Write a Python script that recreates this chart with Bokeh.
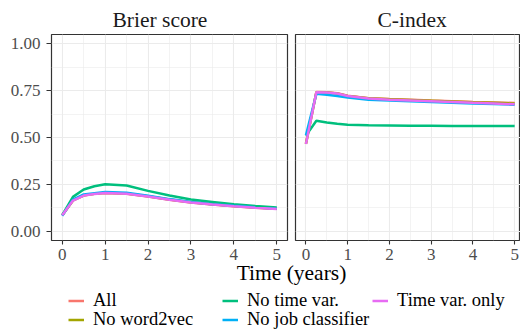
from bokeh.plotting import figure
from bokeh.models import (FixedTicker, Label, Legend, LegendItem, Range1d,
                          NumeralTickFormatter, ColumnDataSource)
from bokeh.layouts import column, row
from bokeh.embed import file_html
from bokeh.resources import INLINE

# ---------------- data ----------------
time = [0, 0.25, 0.5, 0.75, 1, 1.5, 2, 2.5, 3, 3.5, 4, 4.5, 5]

series = ["All", "No word2vec", "No time var.", "No job classifier", "Time var. only"]
colors = ["#F8766D", "#A3A500", "#00BF7D", "#00B0F6", "#E76BF3"]

brier_all          = [0.085, 0.164, 0.190, 0.199, 0.204, 0.200, 0.185, 0.168, 0.153, 0.142, 0.133, 0.125, 0.119]
brier_no_word2vec  = [0.085, 0.164, 0.191, 0.199, 0.205, 0.201, 0.186, 0.169, 0.154, 0.143, 0.134, 0.126, 0.119]
brier_no_time_var  = [0.085, 0.183, 0.222, 0.240, 0.250, 0.244, 0.215, 0.190, 0.169, 0.156, 0.143, 0.134, 0.126]
brier_no_job_cls   = [0.082, 0.168, 0.196, 0.203, 0.209, 0.205, 0.189, 0.171, 0.156, 0.144, 0.135, 0.127, 0.120]
brier_time_var     = [0.085, 0.163, 0.190, 0.198, 0.204, 0.200, 0.185, 0.168, 0.153, 0.142, 0.133, 0.125, 0.118]

cidx_all           = [0.466, 0.743, 0.741, 0.736, 0.723, 0.710, 0.705, 0.701, 0.697, 0.694, 0.690, 0.687, 0.684]
cidx_no_word2vec   = [0.466, 0.742, 0.740, 0.735, 0.722, 0.709, 0.704, 0.700, 0.696, 0.692, 0.688, 0.685, 0.682]
cidx_no_time_var   = [0.510, 0.589, 0.580, 0.573, 0.568, 0.565, 0.564, 0.563, 0.563, 0.562, 0.562, 0.562, 0.561]
cidx_no_job_cls    = [0.512, 0.733, 0.728, 0.722, 0.714, 0.702, 0.697, 0.693, 0.689, 0.686, 0.682, 0.679, 0.675]
cidx_time_var      = [0.465, 0.742, 0.740, 0.735, 0.722, 0.708, 0.702, 0.698, 0.694, 0.690, 0.685, 0.681, 0.677]

x_ticks = [0, 1, 2, 3, 4, 5]
x_minor = [0.5, 1.5, 2.5, 3.5, 4.5]
y_ticks = [0, 0.25, 0.5, 0.75, 1.0]
y_minor = [0.125, 0.375, 0.625, 0.875]

panel_titles = ["Brier score", "C-index"]
x_title = "Time (years)"

brier = [brier_all, brier_no_word2vec, brier_no_time_var, brier_no_job_cls, brier_time_var]
cidx = [cidx_all, cidx_no_word2vec, cidx_no_time_var, cidx_no_job_cls, cidx_time_var]

FONT = "Liberation Serif"
GRID = "#EBEBEB"
BORDER = "#333333"


def make_panel(width, x_end, values, title, title_offset, left_border, right_border, show_y):
    p = figure(width=width, height=270,
               x_range=Range1d(-0.25, x_end), y_range=Range1d(-0.05, 1.05),
               y_axis_location="left" if show_y else None,
               min_border_left=left_border, min_border_right=right_border,
               min_border_top=34, min_border_bottom=30,
               toolbar_location=None, output_backend="svg")
    p.background_fill_color = "white"
    p.border_fill_color = "white"
    p.outline_line_color = BORDER
    p.outline_line_width = 1.2

    p.title.text = title
    p.title.align = "left"
    p.title.offset = title_offset
    p.title.standoff = 5
    p.title.text_font = FONT
    p.title.text_font_size = "21.5px"
    p.title.text_font_style = "normal"
    p.title.text_color = "#1A1A1A"

    p.xgrid.ticker = FixedTicker(ticks=x_ticks, minor_ticks=x_minor)
    p.ygrid.ticker = FixedTicker(ticks=y_ticks, minor_ticks=y_minor)
    for g in (p.xgrid, p.ygrid):
        g.grid_line_color = GRID
        g.grid_line_width = 1.1
        g.minor_grid_line_color = GRID
        g.minor_grid_line_width = 0.6

    axes = [p.xaxis[0]]
    if show_y:
        axes.append(p.yaxis[0])
    for ax in axes:
        ax.axis_line_color = None
        ax.major_tick_line_color = BORDER
        ax.major_tick_line_width = 1.1
        ax.major_tick_in = 0
        ax.minor_tick_line_color = None
        ax.major_label_text_font = FONT
        ax.major_label_text_font_size = "17px"
        ax.major_label_text_color = "#4D4D4D"
    p.xaxis.ticker = FixedTicker(ticks=x_ticks)
    p.xaxis.major_tick_out = 4
    p.xaxis.major_label_standoff = 4
    if show_y:
        p.yaxis.ticker = FixedTicker(ticks=y_ticks)
        p.yaxis.formatter = NumeralTickFormatter(format="0.00")
        p.yaxis.major_tick_out = 5
        p.yaxis.major_label_standoff = 6

    src = ColumnDataSource(dict(t=time, **{f"s{i}": v for i, v in enumerate(values)}))
    for i, c in enumerate(colors):
        p.line(x="t", y=f"s{i}", source=src, line_color=c, line_width=2.5)
    return p


pa = make_panel(291, 5.25, brier, panel_titles[0], 61, 51, 4, True)
pb = make_panel(229, 5.14, cidx, panel_titles[1], 82, 4, 0, False)

# bottom strip: shared axis title + legend (data ranges kept away from the proxies)
pc = figure(width=520, height=74, x_range=Range1d(100, 620), y_range=Range1d(100, 174),
            x_axis_location=None, y_axis_location=None, min_border=0,
            toolbar_location=None, output_backend="svg", margin=(-14, 0, 0, 0))
pc.grid.visible = False
pc.outline_line_color = None
pc.background_fill_color = None
pc.border_fill_color = None

pc.add_layout(Label(x=291, y=57.3, x_units="screen", y_units="screen",
                    text=x_title, text_align="center", text_baseline="alphabetic",
                    text_font=FONT, text_font_size="21.5px", text_font_style="normal",
                    text_color="black"))

proxy_src = ColumnDataSource(dict(t=time, **{f"s{i}": v for i, v in enumerate(brier)}))
proxies = [pc.line(x="t", y=f"s{i}", source=proxy_src, line_color=c, line_width=2.5)
           for i, c in enumerate(colors)]
# (series index, legend x, legend y) : three columns, two rows
slots = [(0, 68, 18.75), (1, 68, 0.25), (2, 222, 18.75), (3, 222, 0.25), (4, 372, 18.75)]
for i, lx, ly in slots:
    leg = Legend(items=[LegendItem(label=series[i], renderers=[proxies[i]])],
                 location=(lx, ly), orientation="vertical",
                 padding=0, margin=0, spacing=0,
                 glyph_width=16, glyph_height=19, label_height=19, label_standoff=9,
                 border_line_color=None, background_fill_alpha=0,
                 label_text_font=FONT, label_text_font_size="18.5px",
                 label_text_color="black")
    pc.add_layout(leg)

layout = column(row(pa, pb), pc)
open("out.html", "w").write(file_html(layout, INLINE))
